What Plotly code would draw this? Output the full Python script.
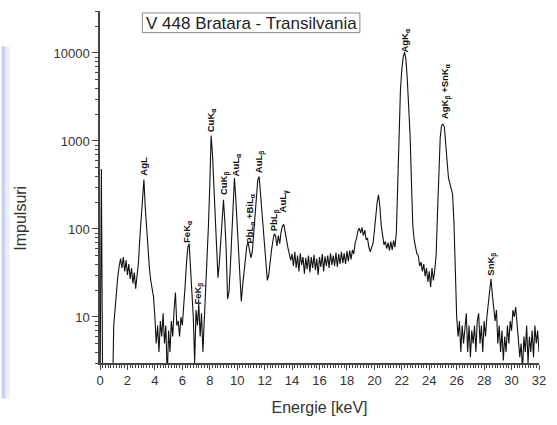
import numpy as np
import plotly.graph_objects as go

# Energy axis (keV), 0.1 keV channels from 0 to 32
energy = np.round(np.arange(0, 321) * 0.1, 1)

# Counts (values below 3 fall under the axis)
counts = [
    1, 480, 1, 1, 1, 1, 1, 1, 1, 1,                      # 0.0-0.9
    8, 13, 21, 29, 38, 46, 36, 48, 33, 44,               # 1.0-1.9
    30, 40, 27, 36, 24, 32, 21, 28, 41, 77,              # 2.0-2.9
    141, 265, 365, 175, 97, 55, 36, 26, 21, 17,          # 3.0-3.9
    10, 5, 8, 4, 9, 6, 11, 5, 8, 2,                      # 4.0-4.9
    7, 4, 9, 6, 12, 19, 8, 9, 6, 10,                     # 5.0-5.9
    8, 12, 22, 40, 62, 68, 38, 16, 10, 3,                # 6.0-6.9
    12, 8, 14, 6, 11, 4, 9, 15, 38, 105,                 # 7.0-7.9
    300, 1150, 700, 320, 140, 64, 28, 41, 70, 120,       # 8.0-8.9
    215, 122, 57, 16, 19, 37, 77, 162, 380, 217,         # 9.0-9.9
    108, 54, 27, 15, 23, 34, 47, 64, 70, 57,             # 10.0-10.9
    47, 55, 86, 132, 205, 360, 395, 245, 158, 105,       # 11.0-11.9
    68, 44, 26, 30, 44, 57, 73, 88, 84, 64,              # 12.0-12.9
    84, 68, 93, 108, 113, 88, 73, 61, 52, 44,            # 13.0-13.9
    52, 38, 55, 36, 50, 33, 53, 39, 48, 31,              # 14.0-14.9
    47, 35, 50, 32, 48, 36, 51, 34, 46, 30,              # 15.0-15.9
    48, 37, 52, 33, 49, 38, 50, 36, 53, 39,              # 16.0-16.9
    50, 38, 54, 37, 52, 40, 55, 41, 53, 40,              # 17.0-17.9
    56, 43, 57, 45, 58, 52, 70, 78, 95, 102,             # 18.0-18.9
    90, 104, 84, 97, 76, 78, 62, 55, 62, 68,             # 19.0-19.9
    95, 140, 200, 245, 180, 110, 80, 66, 72, 60,         # 20.0-20.9
    70, 57, 72, 58, 74, 62, 90, 300, 1700, 3800,         # 21.0-21.9
    6500, 9000, 10200, 8500, 5000, 2500, 1200, 350, 110, 75,  # 22.0-22.9
    62, 52, 50, 38, 42, 33, 40, 29, 36, 25,              # 23.0-23.9
    33, 22, 36, 26, 34, 50, 150, 500, 1100, 1500,        # 24.0-24.9
    1550, 1450, 900, 480, 380, 330, 290, 250, 120, 30,   # 25.0-25.9
    10, 6, 9, 4, 8, 5, 7, 11, 4, 8,                      # 26.0-26.9
    3.5, 7, 5, 8, 4, 9, 11, 5, 8, 4,                     # 27.0-27.9
    9, 6, 10, 14, 20, 27, 18, 13, 9, 12,                 # 28.0-28.9
    5, 8, 4, 7, 3.2, 6, 4, 8, 5, 9,                      # 29.0-29.9
    7, 12, 10, 13, 8, 6, 3.5, 5, 2.5, 6,                 # 30.0-30.9
    4, 8, 3, 6, 4, 7, 3.5, 8, 5, 7,                      # 31.0-31.9
    4,                                                   # 32.0
]

# Peak labels: text, energy position, log10 height of label centre
peak_labels = ["AgL", "FeK<sub>α</sub>", "FeK<sub>β</sub>", "CuK<sub>α</sub>",
               "CuK<sub>β</sub>", "AuL<sub>α</sub>", "PbL<sub>α</sub> +BiL<sub>α</sub>",
               "AuL<sub>β</sub>", "PbL<sub>β</sub>", "AuL<sub>γ</sub>",
               "AgK<sub>α</sub>", "AgK<sub>β</sub> +SnK<sub>α</sub>", "SnK<sub>β</sub>"]
peak_x = [3.16, 6.39, 7.17, 8.1, 9.04, 9.92, 10.88, 11.64, 12.75, 13.39, 22.24, 25.18, 28.57]
peak_logy = [2.712, 1.974, 1.27, 3.237, 2.522, 2.723, 2.119, 2.767, 2.097, 2.309, 4.142, 3.572, 1.605]

major_y = [10, 100, 1000, 10000]
major_y_text = ["10", "100", "1000", "10000"]
minor_y = [m * d for d in [1, 10, 100, 1000, 10000] for m in range(2, 10) if 3 <= m * d <= 30000]

title_text = "V 448 Bratara - Transilvania"
x_title = "Energie [keV]"
y_title = "Impulsuri"

W, H = 557, 425
ML, MR, MT, MB = 100, 11, 11, 56
PW, PH = W - ML - MR, H - MT - MB


def px_x(p):
    return (p - ML) / PW


def px_y(p):
    return (H - MB - p) / PH


fig = go.Figure()
fig.add_trace(go.Scatter(x=energy, y=counts, mode="lines",
                         line=dict(color="#111111", width=1.1), showlegend=False,
                         hoverinfo="skip"))

for t, xx, ly in zip(peak_labels, peak_x, peak_logy):
    fig.add_annotation(x=xx, y=ly, xref="x", yref="y", text="<b>" + t + "</b>",
                       textangle=-90, showarrow=False,
                       font=dict(family="Liberation Sans, Arial", size=9.5, color="#111111"))

# Title box
fig.add_shape(type="rect", xref="paper", yref="paper",
              x0=px_x(143), x1=px_x(364), y0=px_y(33), y1=px_y(13),
              line=dict(color="#888888", width=1), fillcolor="white", layer="above")
fig.add_annotation(xref="paper", yref="paper", x=px_x(253.5), y=px_y(23.5),
                   xanchor="center", yanchor="middle",
                   text=title_text, showarrow=False,
                   font=dict(family="Liberation Sans, Arial", size=17, color="#222222"))

# Y axis title placed as in the reference (below plot centre)
fig.add_annotation(xref="paper", yref="paper", x=px_x(19), y=px_y(222),
                   xanchor="center", yanchor="middle", textangle=-90,
                   text=y_title, showarrow=False,
                   font=dict(family="Liberation Sans, Arial", size=16, color="#333333"))

# Slide decoration strip on the left edge
fig.add_shape(type="rect", xref="paper", yref="paper",
              x0=px_x(0), x1=px_x(4), y0=px_y(405), y1=px_y(47),
              line=dict(width=0), fillcolor="#c7d3f1", layer="below")
fig.add_shape(type="rect", xref="paper", yref="paper",
              x0=px_x(4), x1=px_x(8), y0=px_y(405), y1=px_y(47),
              line=dict(width=0), fillcolor="#e8edf9", layer="below")

axis_font = dict(family="Liberation Sans, Arial", size=13, color="#333333")

fig.update_layout(
    width=W, height=H,
    margin=dict(l=ML, r=MR, t=MT, b=MB),
    paper_bgcolor="white", plot_bgcolor="white",
    font=dict(family="Liberation Sans, Arial", color="#333333"),
    xaxis=dict(
        range=[0, 32], tickmode="linear", tick0=0, dtick=2,
        ticks="outside", ticklen=5, tickwidth=1, tickcolor="#444444",
        showline=True, linecolor="#444444", linewidth=1.5,
        showgrid=False, zeroline=False, tickfont=axis_font,
        minor=dict(dtick=0.2, ticks="outside", ticklen=3, tickcolor="#444444", tickwidth=1),
        title=dict(text=x_title, standoff=14,
                   font=dict(family="Liberation Sans, Arial", size=16, color="#333333")),
    ),
    yaxis=dict(
        type="log", range=[np.log10(3), np.log10(30000)],
        tickmode="array", tickvals=major_y, ticktext=major_y_text,
        ticks="outside", ticklen=6, tickwidth=1, tickcolor="#444444",
        showline=True, linecolor="#444444", linewidth=1.5,
        showgrid=False, zeroline=False, tickfont=axis_font,
        minor=dict(tickmode="array", tickvals=minor_y, ticks="outside", ticklen=3,
                   tickcolor="#444444", tickwidth=1),
    ),
)

fig.write_html("out.html")
